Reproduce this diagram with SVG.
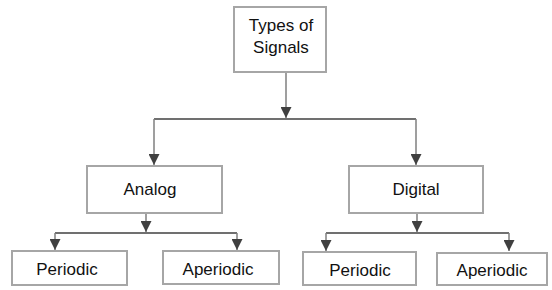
<svg xmlns="http://www.w3.org/2000/svg" width="552" height="290" viewBox="0 0 552 290">
<defs>
<style>
.box{fill:#fff;stroke:#a6a6a6;stroke-width:2}
.lbl{font-family:"Liberation Sans",Arial,sans-serif;font-size:17px;fill:#111;text-anchor:middle}
.h{stroke:#404040;stroke-width:1.5;fill:none}
.v{stroke:#7f7f7f;stroke-width:1.5;fill:none}
</style>
<marker id="ah" viewBox="0 0 10 10" refX="10" refY="5" markerWidth="11" markerHeight="11" markerUnits="userSpaceOnUse" orient="auto">
<path d="M0,0 L10,5 L0,10 Z" fill="#404040"/>
</marker>
</defs>
<rect width="552" height="290" fill="#fff"/>
<g id="connectors">
<path class="v" d="M286,72 V118" marker-end="url(#ah)"/>
<path class="h" d="M154,119 H416"/>
<path class="v" d="M154,119 V165" marker-end="url(#ah)"/>
<path class="v" d="M416,119 V165" marker-end="url(#ah)"/>
<path class="v" d="M146,213 V232" marker-end="url(#ah)"/>
<path class="h" d="M55,233 H237"/>
<path class="v" d="M55,233 V250" marker-end="url(#ah)"/>
<path class="v" d="M237,233 V250" marker-end="url(#ah)"/>
<path class="v" d="M417,213 V232" marker-end="url(#ah)"/>
<path class="h" d="M326,233 H509"/>
<path class="v" d="M326,233 V251" marker-end="url(#ah)"/>
<path class="v" d="M509,233 V251" marker-end="url(#ah)"/>
</g>
<g id="types">
<rect class="box" x="234" y="7" width="92" height="65"/>
<text class="lbl" x="281" y="31">Types of</text>
<text class="lbl" x="281" y="53">Signals</text>
</g>
<g id="analog">
<rect class="box" x="87" y="166" width="135" height="47"/>
<text class="lbl" x="150" y="195">Analog</text>
</g>
<g id="digital">
<rect class="box" x="349" y="166" width="134" height="47"/>
<text class="lbl" x="416" y="195">Digital</text>
</g>
<g id="a-periodic">
<rect class="box" x="12" y="251" width="115" height="34"/>
<text class="lbl" x="67" y="275">Periodic</text>
</g>
<g id="a-aperiodic">
<rect class="box" x="163" y="251" width="116" height="33"/>
<text class="lbl" x="218" y="275">Aperiodic</text>
</g>
<g id="d-periodic">
<rect class="box" x="303" y="252" width="113" height="33"/>
<text class="lbl" x="360" y="276">Periodic</text>
</g>
<g id="d-aperiodic">
<rect class="box" x="437" y="253" width="110" height="32"/>
<text class="lbl" x="492" y="276">Aperiodic</text>
</g>
</svg>
